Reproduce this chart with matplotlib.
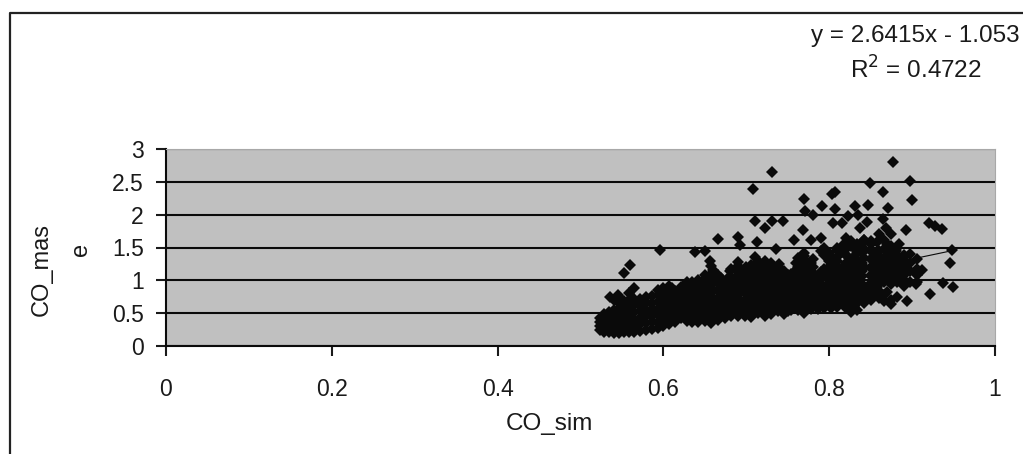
import matplotlib
matplotlib.use("Agg")
import matplotlib.pyplot as plt
from matplotlib.lines import Line2D

plt.rcParams["font.family"] = ["Liberation Sans", "DejaVu Sans"]

# isolated points
outlier_x = [.877, .731, .708, .849, .897, .807, .803, .865, .900, .769, .791, .807, .831, .847, .871,
             .771, .780, .711, .722, .744, .731, .805, .815, .823, .835, .845, .865, .837, .869, .893,
             .920, .928, .936, .666, .690, .693, .596, .638, .650, .713, .736, .768, .757, .778, .790,
             .820, .842, .884, .948, .946, .949, .937, .922, .894, .874, .560, .553, .535, .545, .656,
             .905, .912, .882, .860, .826]
outlier_y = [2.80, 2.65, 2.39, 2.48, 2.51, 2.35, 2.31, 2.34, 2.22, 2.24, 2.13, 2.09, 2.13, 2.15, 2.10,
             2.06, 1.99, 1.90, 1.80, 1.90, 1.90, 1.87, 1.87, 1.98, 1.99, 1.89, 1.93, 1.80, 1.79, 1.77,
             1.87, 1.83, 1.78, 1.63, 1.66, 1.54, 1.46, 1.43, 1.45, 1.58, 1.48, 1.77, 1.62, 1.62, 1.64,
             1.64, 1.62, 1.55, 1.46, 1.26, 0.90, 0.96, 0.79, 0.69, 0.64, 1.23, 1.11, 0.75, 0.78, 1.30,
             0.95, 1.15, 0.75, 1.70, 1.60]

# the dense cloud, one column of y readings per x position
cloud_x = [.523, .528, .534, .540, .546, .552, .558, .565, .572, .579, .586, .593, .600, .607, .614,
           .621, .628, .635, .642, .650, .658, .666, .674, .682, .690, .698, .706, .714, .722, .730,
           .738, .746, .754, .762, .770, .778, .786, .794, .802, .810, .818, .826, .834, .842, .850,
           .858, .866, .874, .882, .890, .898, .906]
cloud_y = [
    [.24, .30, .36, .42],
    [.22, .28, .35, .42, .48],
    [.21, .28, .36, .44, .52],
    [.20, .28, .36, .45, .55, .70],
    [.20, .28, .37, .46, .56, .66, .74],
    [.21, .29, .38, .48, .58, .68],
    [.21, .30, .40, .50, .60, .70, .80],
    [.22, .31, .41, .52, .62, .72, .88],
    [.23, .33, .43, .53, .63, .72],
    [.25, .35, .45, .55, .65, .75],
    [.26, .36, .46, .56, .66, .76],
    [.27, .37, .47, .57, .67, .77, .86],
    [.30, .40, .50, .60, .70, .80, .88],
    [.34, .42, .52, .62, .72, .82, .92],
    [.37, .45, .54, .64, .74, .84],
    [.42, .50, .60, .70, .80, .90],
    [.38, .46, .56, .66, .76, .86, .97],
    [.36, .44, .54, .64, .74, .84, .98],
    [.36, .44, .54, .66, .78, .90, 1.00],
    [.38, .47, .57, .68, .80, .92, 1.02],
    [.35, .44, .55, .67, .80, .93, 1.10, 1.22],
    [.40, .50, .60, .72, .84, .96, 1.08],
    [.42, .52, .63, .74, .86, .98],
    [.46, .55, .65, .77, .88, 1.00, 1.18],
    [.45, .55, .66, .78, .90, 1.02, 1.14, 1.28],
    [.46, .56, .67, .80, .92, 1.04, 1.16],
    [.44, .54, .66, .78, .90, 1.02, 1.14, 1.24],
    [.50, .60, .70, .82, .94, 1.06, 1.18, 1.30],
    [.46, .56, .68, .80, .92, 1.05, 1.18, 1.30],
    [.48, .58, .70, .82, .94, 1.06, 1.18, 1.26],
    [.54, .64, .74, .86, .98, 1.10, 1.20],
    [.48, .58, .70, .82, .94, 1.04, 1.14],
    [.55, .65, .76, .88, 1.00, 1.10],
    [.55, .65, .76, .88, 1.00, 1.10, 1.20, 1.34],
    [.50, .60, .72, .84, .96, 1.08, 1.20, 1.32, 1.42],
    [.56, .66, .78, .90, 1.02, 1.14, 1.26],
    [.56, .66, .76, .88, .98, 1.08],
    [.58, .68, .78, .88, 1.06, 1.18, 1.38, 1.50],
    [.58, .68, .80, .90, 1.00, 1.12, 1.24, 1.36],
    [.60, .70, .80, .92, 1.04, 1.16, 1.30, 1.46],
    [.66, .76, .86, .98, 1.10, 1.22, 1.42, 1.56],
    [.52, .62, .72, .84, .94, 1.08, 1.20, 1.32, 1.52],
    [.55, .66, .76, .86, 1.00, 1.14, 1.28, 1.42, 1.56],
    [.66, .76, .88, 1.20, 1.34, 1.48, 1.62],
    [.70, .80, .92, 1.06, 1.20, 1.32, 1.44, 1.55],
    [.78, .90, 1.00, 1.12, 1.26, 1.40, 1.58],
    [.68, .78, .98, 1.10, 1.22, 1.34, 1.48, 1.62],
    [.70, .95, 1.08, 1.26, 1.40, 1.52, 1.70],
    [.98, 1.12, 1.24, 1.38, 1.50],
    [.92, 1.08, 1.22, 1.36],
    [.98, 1.14, 1.26, 1.40],
    [.98, 1.08, 1.18, 1.32],
]

# second pass over the cloud, between the columns above
fill_x = [.600, .610, .620, .630, .640, .650, .660, .670, .680, .690, .700, .710, .720, .730, .740,
          .750, .760, .770, .780, .790, .800, .810, .820, .830, .840, .850, .860, .870, .880, .890]
fill_y = [
    [.35, .45, .55, .65, .75, .85],
    [.40, .48, .58, .68, .78, .88],
    [.45, .55, .65, .75, .85],
    [.41, .51, .61, .71, .81, .91],
    [.40, .49, .60, .72, .84, .95],
    [.42, .52, .62, .74, .86, .98, 1.08],
    [.40, .49, .61, .73, .86, .99, 1.16],
    [.45, .56, .68, .80, .92, 1.04],
    [.50, .60, .70, .82, .94, 1.06, 1.14],
    [.50, .60, .72, .84, .96, 1.08, 1.22],
    [.50, .60, .72, .85, .97, 1.10, 1.20],
    [.55, .65, .76, .88, 1.00, 1.12, 1.24, 1.36],
    [.51, .62, .74, .86, .98, 1.12, 1.24],
    [.53, .64, .76, .88, 1.00, 1.12, 1.22],
    [.58, .69, .80, .92, 1.04, 1.15, 1.25],
    [.53, .64, .76, .88, .99, 1.08],
    [.60, .70, .82, .94, 1.05, 1.15, 1.27],
    [.55, .66, .78, .90, 1.02, 1.14, 1.26, 1.37],
    [.61, .72, .84, .96, 1.08, 1.20, 1.32],
    [.62, .73, .83, .94, 1.04, 1.12, 1.44],
    [.63, .74, .85, .96, 1.06, 1.18, 1.30, 1.42],
    [.65, .75, .86, .98, 1.10, 1.22, 1.36, 1.50],
    [.58, .70, .81, .92, 1.04, 1.16, 1.26, 1.38, 1.48],
    [.60, .71, .81, .92, 1.07, 1.21, 1.35, 1.49],
    [.71, .82, .94, 1.06, 1.14, 1.27, 1.41, 1.55],
    [.74, .85, .96, 1.08, 1.19, 1.33, 1.46, 1.60],
    [.73, .84, .95, 1.04, 1.16, 1.30, 1.44],
    [.82, 1.02, 1.17, 1.32, 1.44, 1.56],
    [1.05, 1.18, 1.31, 1.44],
    [1.00, 1.15, 1.29, 1.38],
]

# trendline printed on the chart
slope = 2.6415
intercept = -1.053
trend_x = [.525, .95]

y_ticks = [0, 0.5, 1, 1.5, 2, 2.5, 3]
x_ticks = [0, 0.2, 0.4, 0.6, 0.8, 1]
y_tick_labels = ["0", "0.5", "1", "1.5", "2", "2.5", "3"]
x_tick_labels = ["0", "0.2", "0.4", "0.6", "0.8", "1"]

W, H = 1023, 454
fig = plt.figure(figsize=(W / 100, H / 100), dpi=100)

# plot area in pixels: x 166-995, y 149-346
ax = fig.add_axes([166 / W, 1 - 346 / H, 829 / W, 197 / H])
ax.set_facecolor("#c0c0c0")
ax.set_xlim(0, 1)
ax.set_ylim(0, 3)
ax.set_xticks(x_ticks, x_tick_labels)
ax.set_yticks(y_ticks, y_tick_labels)
ax.grid(True, axis="y", color="#0a0a0a", lw=1.5)
ax.set_axisbelow(True)
ax.tick_params(length=7, width=1.5, labelsize=16.5, colors="#1a1a1a", pad=9)
ax.tick_params(axis="x", pad=16)
for side in ("left", "bottom"):
    ax.spines[side].set_linewidth(1.5)
    ax.spines[side].set_color("#0a0a0a")
for side in ("top", "right"):
    ax.spines[side].set_linewidth(0.8)
    ax.spines[side].set_color("#a8a8a8")

xs, ys = [], []
for cx, col in zip(cloud_x + fill_x, cloud_y + fill_y):
    xs += [cx] * len(col)
    ys += col
ax.plot(xs + outlier_x, ys + outlier_y, ls="none", marker="D", ms=6.4, color="#0a0a0a", mew=0)
ax.plot(trend_x, [slope * x + intercept for x in trend_x], color="#0a0a0a", lw=0.8)

# outer chart frame runs off the right and bottom of the crop
fig.add_artist(Line2D([9.5 / W, 9.5 / W, 1], [0, 1 - 12.5 / H, 1 - 12.5 / H], color="#222222", lw=1.6))

fig.text(549 / W, 1 - 424 / H, "CO_sim", ha="center", va="center", fontsize=17.5, color="#1a1a1a")
fig.text(42 / W, 1 - 269 / H, "CO_mas", ha="center", va="center", rotation=90, fontsize=17, color="#1a1a1a")
fig.text(81 / W, 1 - 249 / H, "e", ha="center", va="center", rotation=90, fontsize=17, color="#1a1a1a")
fig.text(1020 / W, 1 - 36 / H, "y = 2.6415x - 1.053", ha="right", va="center", fontsize=17.5, color="#1a1a1a")
fig.text(916 / W, 1 - 70 / H, "R$^{2}$ = 0.4722", ha="center", va="center", fontsize=17.5, color="#1a1a1a")

fig.savefig("out.png", dpi=100)
